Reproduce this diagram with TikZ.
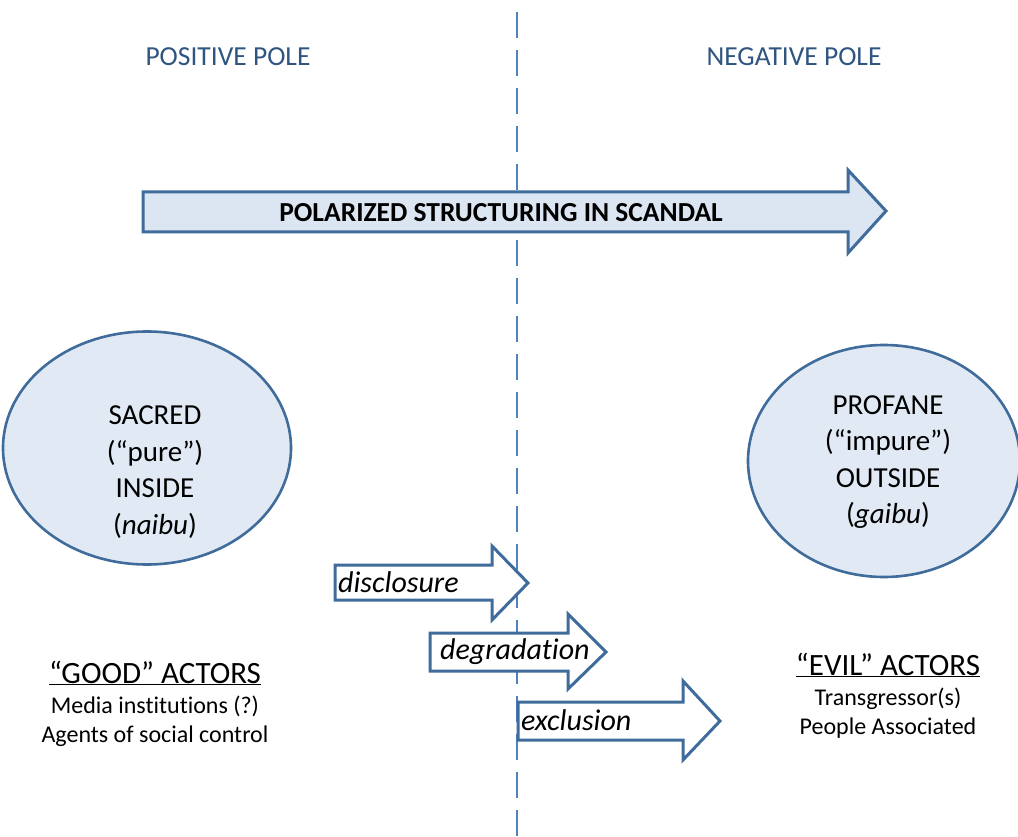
\documentclass[tikz,border=0pt]{standalone}
\usepackage{fontspec}
\usetikzlibrary{shapes.geometric}
\setmainfont[Ligatures=NoCommon]{Carlito}
\definecolor{poleblue}{HTML}{2F5580}
\definecolor{linkblue}{HTML}{4F81BD}
\definecolor{edgeblue}{HTML}{3F6C9B}
\definecolor{paleblue}{HTML}{DCE6F2}
\begin{document}
\begin{tikzpicture}[x=1pt,y=-1pt,
  polelabel/.style={text=poleblue,font=\fontsize{27.5}{30}\selectfont},
  bigtext/.style={font=\fontsize{27.5}{30}\selectfont\bfseries},
  flowarrow/.style={draw=edgeblue,line width=3pt,fill=white,line join=miter},
  mainarrow/.style={draw=edgeblue,line width=3pt,fill=paleblue,line join=miter},
  pole/.style={ellipse,draw=edgeblue,line width=2.6pt,fill=paleblue!85,inner sep=0pt},
  poletext/.style={align=center,font=\fontsize{29}{36.5}\selectfont},
  steplabel/.style={anchor=west,inner sep=0pt,font=\fontsize{30}{32}\selectfont\itshape},
  actorhead/.style={font=\fontsize{31}{34}\selectfont},
  actorline/.style={font=\fontsize{24}{28}\selectfont},
  divider/.style={draw=linkblue,line width=2.8pt,dash pattern=on 26pt off 12pt}]
\useasboundingbox (0,0) rectangle (1018,837);

% dividing line between the two poles
\coordinate (divtop) at (517,12);
\coordinate (divbot) at (517,837);
\draw[divider] (divtop) -- (divbot);

% pole headings
\node[polelabel] (poshead) at (228,57) {POSITIVE POLE};
\node[polelabel] (neghead) at (794,57) {NEGATIVE POLE};

% main arrow
\draw[mainarrow] (143,192) -- (848,192) -- (848,170) -- (886,211) -- (848,253)
  -- (848,232) -- (143,232) -- cycle;
\node[bigtext] (main) at (501,213) {POLARIZED STRUCTURING IN SCANDAL};

% the two poles
\node[pole,minimum width=288pt,minimum height=233pt] (inside) at (147,448) {};
\node[poletext] (sacred) at (155,472) {SACRED\\(“pure”)\\INSIDE\\(\textit{naibu})};
\node[pole,minimum width=272pt,minimum height=232pt] (outside) at (884,461) {};
\node[poletext] (profane) at (888,462) {PROFANE\\(“impure”)\\OUTSIDE\\(\textit{gaibu})};

% process arrows
\draw[flowarrow] (335,565) -- (492,565) -- (492,546) -- (528,583) -- (492,620)
  -- (492,600) -- (335,600) -- cycle;
\node[steplabel] (disc) at (338,582) {disclosure};
\draw[flowarrow] (430,633) -- (568,633) -- (568,614) -- (606,652) -- (568,689)
  -- (568,671) -- (430,671) -- cycle;
\node[steplabel] (degr) at (440,652) {degradation};
\draw[flowarrow] (518,702) -- (683,702) -- (683,681) -- (720,721) -- (683,760)
  -- (683,740) -- (518,740) -- cycle;
\node[steplabel] (excl) at (521,720) {exclusion};

% actors
\node[actorhead] (good) at (155,673) {\underline{“GOOD” ACTORS}};
\node[actorline] (media) at (155,706) {Media institutions (?)};
\node[actorline] (agents) at (155,736) {Agents of social control};
\node[actorhead] (evil) at (888,665) {\underline{“EVIL” ACTORS}};
\node[actorline] (trans) at (888,699) {Transgressor(s)};
\node[actorline] (people) at (888,728) {People Associated};
\end{tikzpicture}
\end{document}
